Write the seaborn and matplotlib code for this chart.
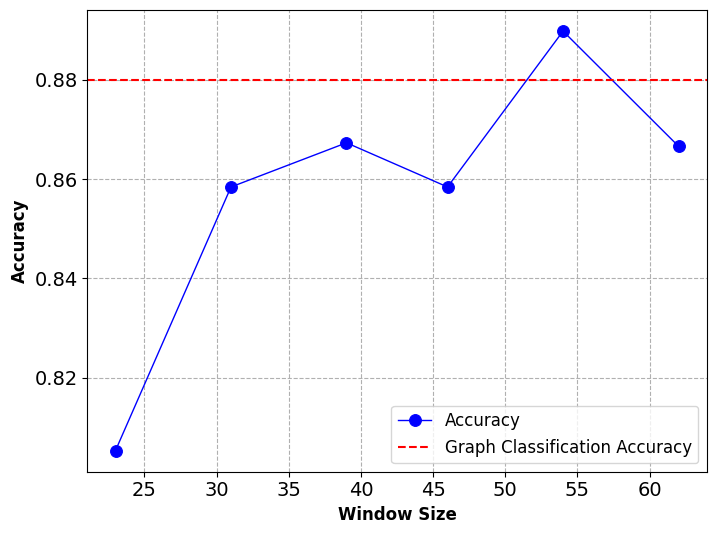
import matplotlib
matplotlib.use("Agg")
import matplotlib.pyplot as plt
import seaborn as sns
import pandas as pd

window_sizes = [23, 31, 39, 46, 54, 62]
accuracy = [0.8053, 0.8584, 0.8673, 0.8584, 0.8898, 0.8666]
graph_accuracy = 0.88

df = pd.DataFrame({"window": window_sizes, "acc": accuracy})

fig, ax = plt.subplots(figsize=(7.16, 5.34), dpi=100)
sns.lineplot(data=df, x="window", y="acc", ax=ax, color="blue", marker="o",
             markersize=8.5, markeredgecolor="blue", linewidth=1, label="Accuracy")
ax.axhline(graph_accuracy, color="red", linestyle="--", linewidth=1.5,
           label="Graph Classification Accuracy")

ax.set_xlabel("Window Size", fontsize=12, fontweight="bold")
ax.set_ylabel("Accuracy", fontsize=12, fontweight="bold")
ax.tick_params(labelsize=14)
ax.grid(True, linestyle="--", color="#b0b0b0", linewidth=0.8)
ax.legend(loc="lower right", fontsize=12)

fig.subplots_adjust(left=0.122, right=0.987, top=0.981, bottom=0.117)
fig.savefig("out.png", dpi=100)
